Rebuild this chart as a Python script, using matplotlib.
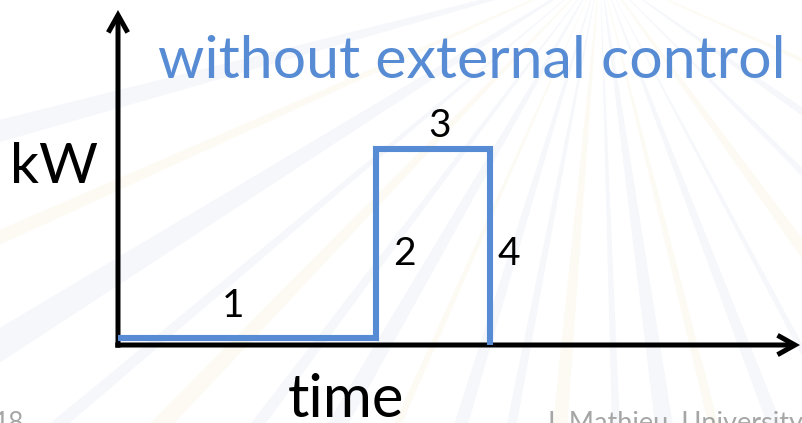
import numpy as np
import matplotlib.pyplot as plt
from matplotlib.patches import Polygon

plt.rcParams['font.family'] = ['Lato', 'DejaVu Sans']

# load profile: time breakpoints and power level (arbitrary units, axes run 0..10)
time_pts = [0.0, 3.78, 3.78, 5.45, 5.45]
kw_pts = [0.2, 0.2, 5.85, 5.85, 0.0]

# segment numbers and where they sit
seg_labels = ['1', '2', '3', '4']
seg_x = [1.69, 4.2, 4.72, 5.73]
seg_y = [0.85, 2.4, 6.2, 2.4]

title = 'without external control'
blue = '#578CD4'

# background sunburst (angles in degrees, measured from straight down)
ray_angles = [-75, -66, -58, -50, -44, -37, -30, -24, -17, -11, -5, 2, 8, 14, 21, 28, 36, 45, 55, 66]
ray_widths = [2.0, 1.2, 2.4, 1.0, 1.6, 1.2, 2.0, 0.8, 1.6, 1.2, 1.8, 1.0, 2.2, 1.2, 1.6, 0.8, 2.0, 1.2, 1.6, 1.0]
ray_colors = ['#e3e9f4', '#f8f3dc']

fig = plt.figure(figsize=(8.02, 4.23), dpi=100)
fig.patch.set_facecolor('white')

bg = fig.add_axes([0, 0, 1, 1])
bg.set_xlim(0, 802)
bg.set_ylim(423, 0)
bg.axis('off')

cx, cy = 600, -30
for i, (a, w) in enumerate(zip(ray_angles, ray_widths)):
    a1 = np.radians(a - w / 2)
    a2 = np.radians(a + w / 2)
    r = 1200
    pts = [(cx, cy), (cx + r * np.sin(a1), cy + r * np.cos(a1)), (cx + r * np.sin(a2), cy + r * np.cos(a2))]
    bg.add_patch(Polygon(pts, closed=True, color=ray_colors[i % 3 == 1], alpha=0.35, lw=0, zorder=0))

# plot area: origin at the corner of the two axis arrows
ax = fig.add_axes([118 / 802, (423 - 345) / 423, 682 / 802, (345 - 10) / 423])
ax.set_xlim(0, 10)
ax.set_ylim(0, 10)
ax.patch.set_alpha(0)
for s in ax.spines.values():
    s.set_visible(False)
ax.set_xticks([])
ax.set_yticks([])

# axis arrows with open chevron heads
arrow = dict(arrowstyle='->,head_length=1.25,head_width=0.7', color='black', lw=3.6,
             shrinkA=0, shrinkB=0, joinstyle='miter', capstyle='butt')
ax.annotate('', xy=(1.0, 0), xytext=(-0.004, 0), xycoords='axes fraction', arrowprops=arrow, zorder=2)
ax.annotate('', xy=(0, 1.0), xytext=(0, -0.008), xycoords='axes fraction', arrowprops=arrow, zorder=2)

ax.plot(time_pts, kw_pts, color=blue, lw=4.4, solid_joinstyle='miter', solid_capstyle='butt',
        clip_on=False, zorder=3)

for lab, x, y in zip(seg_labels, seg_x, seg_y):
    ax.text(x, y, lab, fontsize=28, ha='center', va='baseline', color='black')

bg.text(158, 78, title, fontsize=42.5, color=blue, ha='left', va='baseline')
bg.text(10, 183, 'kW', fontsize=41, color='black', ha='left', va='baseline')
bg.text(288, 417, 'time', fontsize=43, color='black', ha='left', va='baseline')

# footer
bg.text(-6, 411, '18', fontsize=19, color='#a6a6a6', ha='left', va='top')
bg.text(544, 411, 'J. Mathieu, University of Michigan', fontsize=19.5, color='#a6a6a6', ha='left', va='top')

fig.savefig('out.png', dpi=100)
